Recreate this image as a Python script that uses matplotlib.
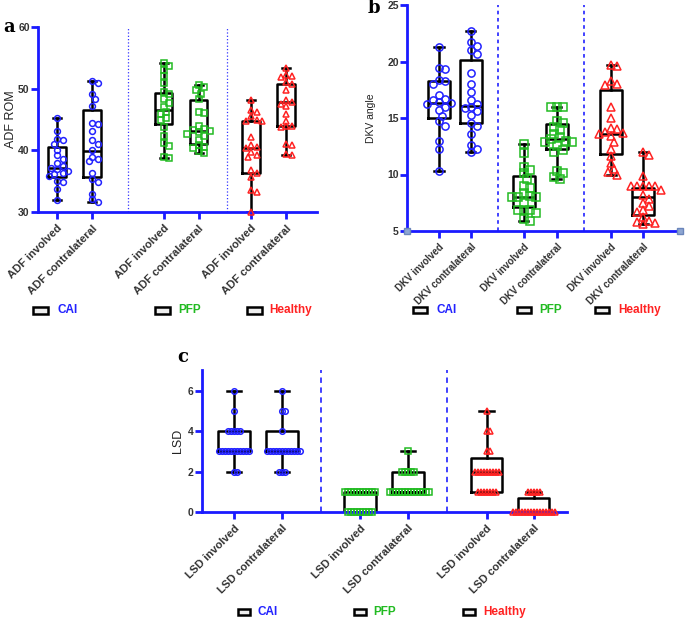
import numpy as np
import matplotlib
matplotlib.use('Agg')
import matplotlib.pyplot as plt
from matplotlib.patches import Rectangle

W, H = 685, 620

groups = ['CAI', 'PFP', 'Healthy']
group_colors = ['#2222ff', '#22bb22', '#ff2222']

# ---- panel a: ADF ROM ----
adf_labels = ['ADF involved', 'ADF contralateral'] * 3
adf_cai_inv = [45.3, 43.2, 41.8, 41.6, 41.0, 40.1, 39.2, 38.6, 37.9, 37.4,
               37.2, 36.9, 36.7, 36.3, 36.1, 35.8, 35.1, 34.9, 33.8, 31.9]
adf_cai_con = [51.2, 50.9, 49.1, 48.3, 47.2, 44.5, 44.2, 43.1, 41.7, 41.0,
               40.1, 39.0, 38.6, 38.2, 36.3, 35.3, 34.8, 33.0, 32.1, 31.6]
adf_pfp_inv = [54.1, 53.7, 53.0, 52.0, 50.9, 49.4, 49.2, 48.3, 47.6, 47.0,
               46.2, 45.9, 45.3, 45.0, 43.8, 42.4, 41.2, 40.7, 39.0, 38.8]
adf_pfp_con = [50.6, 50.2, 49.8, 49.2, 48.4, 46.2, 46.1, 43.9, 43.5, 43.3,
               43.1, 43.0, 42.7, 42.4, 41.7, 40.8, 40.5, 40.3, 39.9, 39.5]
adf_hea_inv = [48.2, 46.6, 46.2, 45.5, 45.0, 44.8, 44.7, 42.2, 40.9, 40.6,
               40.3, 39.7, 39.3, 38.9, 36.8, 36.4, 35.7, 33.5, 33.2, 30.0]
adf_hea_con = [53.3, 52.2, 52.0, 51.9, 51.1, 50.8, 49.8, 48.1, 47.9, 47.5,
               47.2, 45.9, 44.8, 43.9, 43.9, 43.8, 41.0, 40.9, 39.4, 39.2]
# (min, q1, median, q3, max)
adf_box = [(31.9, 35.7, 37.1, 40.5, 45.3), (31.6, 35.6, 39.9, 46.5, 51.2),
           (38.8, 44.2, 46.6, 49.3, 54.1), (39.5, 41.1, 43.1, 48.1, 50.6),
           (30.0, 36.3, 40.3, 44.8, 48.2), (39.2, 43.9, 47.9, 50.7, 53.3)]

# ---- panel b: DKV angle ----
dkv_labels = ['DKV involved', 'DKV contralateral'] * 3
dkv_cai_inv = [21.3, 19.4, 19.3, 18.4, 18.3, 18.0, 17.0, 16.7, 16.6, 16.4,
               16.3, 16.2, 16.0, 15.7, 15.2, 14.7, 14.3, 13.0, 12.3, 10.3]
dkv_cai_con = [22.7, 21.7, 21.4, 21.0, 20.7, 19.0, 18.0, 17.3, 16.6, 16.2,
               16.0, 15.9, 15.6, 15.3, 14.6, 14.3, 13.6, 12.6, 12.3, 12.0]
dkv_pfp_inv = [12.7, 11.9, 10.7, 10.4, 10.1, 9.6, 9.0, 8.8, 8.4, 8.1,
               8.0, 8.0, 8.0, 7.5, 6.9, 6.9, 6.9, 6.6, 6.1, 5.9]
dkv_pfp_con = [16.0, 16.0, 16.0, 14.7, 14.6, 14.2, 13.9, 13.6, 13.3, 13.1,
               13.0, 12.9, 12.9, 12.5, 12.2, 12.0, 10.3, 10.1, 9.8, 9.6]
dkv_hea_inv = [19.7, 19.6, 18.3, 18.0, 17.9, 16.0, 15.0, 14.1, 14.0, 13.8,
               13.7, 13.6, 13.4, 12.9, 12.3, 11.6, 11.0, 10.5, 10.2, 10.0]
dkv_hea_con = [12.0, 11.7, 9.9, 9.0, 9.0, 9.0, 9.0, 9.0, 8.6, 8.2,
               7.8, 7.5, 7.2, 6.9, 6.7, 6.2, 5.9, 5.8, 5.7, 5.6]
dkv_box = [(10.3, 15.0, 16.3, 18.25, 21.3), (12.0, 14.6, 16.1, 20.1, 22.7),
           (5.9, 7.1, 8.0, 9.85, 12.7), (9.6, 12.25, 13.1, 14.45, 16.0),
           (10.0, 11.85, 13.6, 17.45, 19.7), (5.6, 6.4, 8.0, 8.8, 12.0)]

# ---- panel c: LSD ----
lsd_labels = ['LSD involved', 'LSD contralateral'] * 3
lsd_cai_inv = [6, 5, 4, 4, 4, 4, 4] + [3] * 11 + [2, 2]
lsd_cai_con = [6, 5, 5, 4] + [3] * 12 + [2, 2, 2]
lsd_pfp_inv = [1] * 11 + [0] * 9
lsd_pfp_con = [3] + [2] * 5 + [1] * 14
lsd_hea_inv = [5, 4, 4, 3, 3] + [2] * 9 + [1] * 7
lsd_hea_con = [1] * 5 + [0] * 15
lsd_box = [(2, 3, 3, 4, 6), (2, 3, 3, 4, 6), (0, 0, 0, 1, 1),
           (1, 1, 1, 2, 3), (1, 1, 2, 2.7, 5), (0, 0, 0, 0.7, 1)]

markers = ['o', 'o', 's', 's', '^', '^']


def fig_rect(x, y, w, h):
    return [x / W, 1 - (y + h) / H, w / W, h / H]


def swarm(ax, x0, vals, dist, step):
    # spread overlapping points sideways, in pixel space
    placed = []
    xs = []
    for v in vals:
        px0, py = ax.transData.transform((x0, v))
        k = 0
        while True:
            offs = [0] if k == 0 else [k * step, -k * step]
            done = False
            for off in offs:
                px = px0 + off
                if all((px - qx) ** 2 + (py - qy) ** 2 >= dist ** 2 for qx, qy in placed):
                    placed.append((px, py))
                    xs.append(ax.transData.inverted().transform((px, py))[0])
                    done = True
                    break
            if done:
                break
            k += 1
    return xs


def panel(ax, data, boxes, labels, pos, xlim, ylim, yticks, divs, div_style,
          bw, cw, msize, dist, step, fsize):
    ax.set_xlim(*xlim)
    ax.set_ylim(*ylim)
    for s in ['top', 'right']:
        ax.spines[s].set_visible(False)
    for s in ['left', 'bottom']:
        ax.spines[s].set_color('#1a1aff')
        ax.spines[s].set_linewidth(2)
    for d in divs:
        ax.axvline(d, color='#3333ff', **div_style)
    stats = [dict(whislo=b[0], q1=b[1], med=b[2], q3=b[3], whishi=b[4], fliers=[])
             for b in boxes]
    lp = dict(color='black', linewidth=1.8)
    ax.bxp(stats, positions=pos, widths=bw, capwidths=cw, showfliers=False,
           boxprops=lp, whiskerprops=lp, capprops=lp, medianprops=lp,
           manage_ticks=False, zorder=2)
    for i, vals in enumerate(data):
        col = group_colors[i // 2]
        xs = swarm(ax, pos[i], vals, dist, step)
        ax.plot(xs, vals, linestyle='none', marker=markers[i], ms=msize,
                mfc='none', mec=col, mew=1.1, clip_on=False, zorder=3)
    ax.set_xticks(pos)
    ax.set_xticklabels(labels, rotation=45, ha='right', va='top',
                       rotation_mode='anchor', fontsize=fsize,
                       fontweight='bold', color='#333333', family='Liberation Sans')
    ax.set_yticks(yticks)
    ax.set_yticklabels([str(t) for t in yticks], fontsize=7.5, fontweight='bold',
                       color='#333333', family='Liberation Sans')
    ax.tick_params(axis='both', colors='#1a1aff', width=2, length=5,
                   labelcolor='#333333')
    ax.tick_params(axis='x', pad=3)
    ax.tick_params(axis='y', pad=1)
    ax.patch.set_alpha(0)


def legend_row(fig, items, y, iw, ih):
    for (ix, tx), name, col in zip(items, groups, group_colors):
        r = Rectangle(((ix - iw / 2) / W, 1 - (y + ih / 2) / H), iw / W, ih / H,
                      transform=fig.transFigure, facecolor='#eeeeee',
                      edgecolor='black', linewidth=1.8)
        fig.add_artist(r)
        fig.text(tx / W, 1 - y / H, name, color=col, fontsize=8.5,
                 fontweight='bold', family='Liberation Sans', va='center', ha='left')


fig = plt.figure(figsize=(W / 100, H / 100), dpi=100)

# panel a
ax_a = fig.add_axes(fig_rect(38, 27, 279, 185))
panel(ax_a, [adf_cai_inv, adf_cai_con, adf_pfp_inv, adf_pfp_con, adf_hea_inv, adf_hea_con],
      adf_box, adf_labels, [0, 1, 3.05, 4.05, 5.55, 6.55], (-0.54, 7.43), (30, 60),
      [30, 40, 50, 60], [2.03, 4.86], dict(linestyle=':', linewidth=0.9),
      0.5, 0.23, 4.2, 5.2, 2.8, 8)
ax_a.set_ylabel('ADF ROM', fontsize=9, family='Liberation Sans', color='#222222', labelpad=1)

# panel b
ax_b = fig.add_axes(fig_rect(407, 5, 273, 226))
panel(ax_b, [dkv_cai_inv, dkv_cai_con, dkv_pfp_inv, dkv_pfp_con, dkv_hea_inv, dkv_hea_con],
      dkv_box, dkv_labels, [0, 0.99, 2.63, 3.65, 5.33, 6.32], (-0.99, 7.46), (5, 25),
      [5, 10, 15, 20, 25], [1.83, 4.49], dict(linestyle=(0, (2, 2)), linewidth=1.3),
      0.68, 0.28, 5.2, 5.8, 3.0, 7)
ax_b.set_ylabel('DKV angle', fontsize=7.5, family='Liberation Sans', color='#222222', labelpad=8)
for xe in [0, 1]:
    ax_b.plot([xe], [0], transform=ax_b.transAxes, marker='s', ms=5, mfc='#8ea6d2',
              mec='#6b86bb', clip_on=False, zorder=5)

# panel c
ax_c = fig.add_axes(fig_rect(202, 370, 365, 142))
panel(ax_c, [lsd_cai_inv, lsd_cai_con, lsd_pfp_inv, lsd_pfp_con, lsd_hea_inv, lsd_hea_con],
      lsd_box, lsd_labels, [0, 1, 2.625, 3.625, 5.27, 6.25], (-0.667, 6.94), (0, 7.04),
      [0, 2, 4, 6], [1.81, 4.44], dict(linestyle=(0, (3, 2.5)), linewidth=1.3),
      0.65, 0.31, 4.0, 3.0, 3.0, 8)
ax_c.set_ylabel('LSD', fontsize=9, family='Liberation Sans', color='#222222', labelpad=3)

# panel letters
for t, x, y in [('a', 3, 27), ('b', 368, 8), ('c', 177, 357)]:
    fig.text(x / W, 1 - y / H, t, fontsize=13, fontweight='bold',
             family='DejaVu Serif', va='center', ha='left')

legend_row(fig, [(40, 57), (162, 178), (254, 269)], 310, 15, 7)
legend_row(fig, [(420, 436), (524, 539), (602, 618)], 310, 14, 6)
legend_row(fig, [(244, 257), (360, 373), (469, 483)], 612, 12, 6)

fig.savefig('out.png', dpi=100)
